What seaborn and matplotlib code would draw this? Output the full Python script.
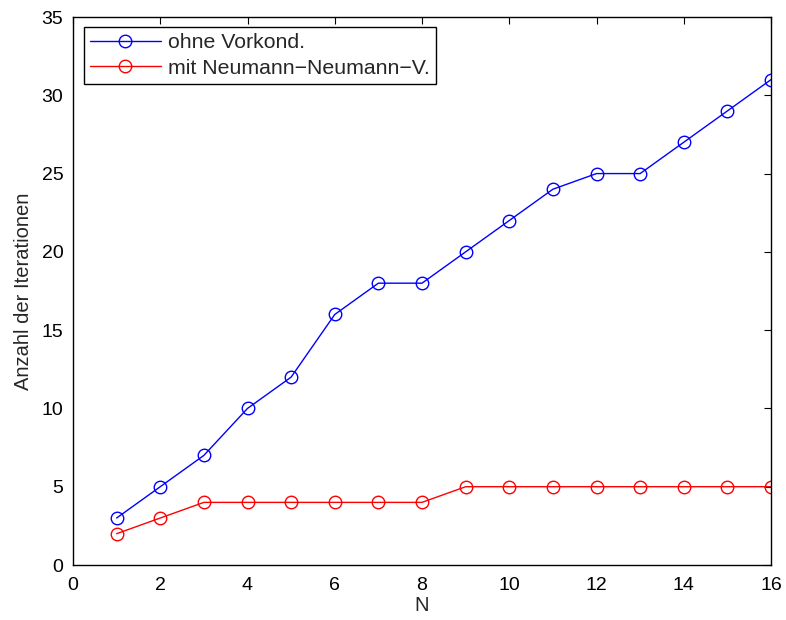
import matplotlib
matplotlib.use("Agg")
import matplotlib.pyplot as plt
import seaborn as sns
import pandas as pd
from matplotlib.lines import Line2D

N = list(range(1, 17))
ohne = [3, 5, 7, 10, 12, 16, 18, 18, 20, 22, 24, 25, 25, 27, 29, 31]
mit = [2, 3, 4, 4, 4, 4, 4, 4, 5, 5, 5, 5, 5, 5, 5, 5]
labels = ["ohne Vorkond.", "mit Neumann\u2212Neumann\u2212V."]
colors = ["#0000ff", "#ff0000"]

df = pd.DataFrame({
    "N": N * 2,
    "iter": ohne + mit,
    "series": [labels[0]] * len(N) + [labels[1]] * len(N),
})

sns.set_style("white")
plt.rcParams["font.family"] = ["Liberation Sans", "DejaVu Sans"]

fig = plt.figure(figsize=(7.86, 6.2), dpi=100)
ax = fig.add_axes([73 / 786, 1 - 565 / 620, (771 - 73) / 786, (565 - 17) / 620])

sns.lineplot(data=df, x="N", y="iter", hue="series", palette=colors,
             marker="o", markersize=9, markerfacecolor="none",
             markeredgewidth=1.0, linewidth=1.0, ax=ax, legend=False)
for line, c in zip(ax.get_lines(), colors):
    line.set_markeredgecolor(c)
    line.set_markerfacecolor("none")

ax.set_xlim(0, 16)
ax.set_ylim(0, 35)
ax.set_xticks(range(0, 17, 2))
ax.set_yticks(range(0, 36, 5))
ax.set_xlabel("N", fontsize=14.5, labelpad=1)
ax.set_ylabel("Anzahl der Iterationen", fontsize=14.5, labelpad=6)
ax.tick_params(direction="in", length=5, width=0.8, top=True, right=True,
               labelsize=14, colors="black")
ax.tick_params(axis="x", pad=9)
ax.tick_params(axis="y", pad=7)
for s in ax.spines.values():
    s.set_visible(True)
    s.set_color("black")
    s.set_linewidth(1.0)

handles = [Line2D([], [], color=c, marker="o", markersize=9, markerfacecolor="none",
                  markeredgecolor=c, linewidth=1.0) for c in colors]
leg = ax.legend(handles, labels, loc="upper left", fontsize=15.3, frameon=True,
                fancybox=False, edgecolor="black", framealpha=1,
                bbox_to_anchor=(11 / 698, 1 - 10 / 548), borderaxespad=0,
                handlelength=3.3, handletextpad=0.35,
                borderpad=0.3, labelspacing=0.3)
leg.get_frame().set_linewidth(1.0)

fig.savefig("out.png", dpi=100, facecolor="white")
